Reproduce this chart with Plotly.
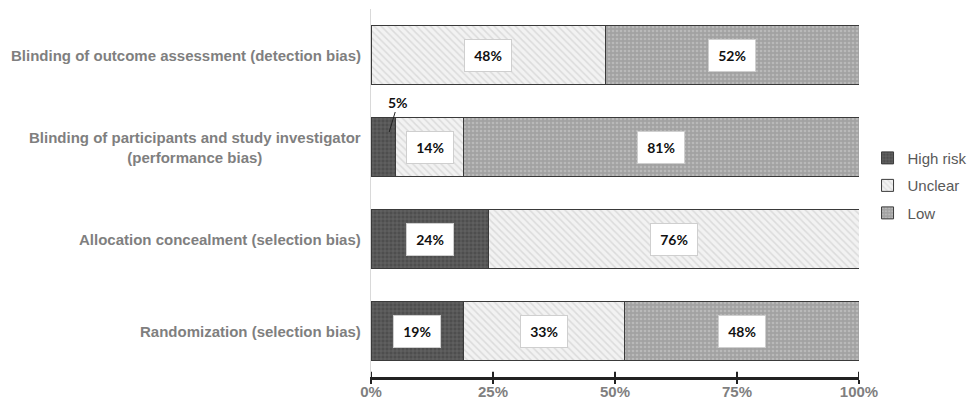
import plotly.graph_objects as go

# Risk-of-bias domains (bottom to top) and percentage of studies per judgement
categories = [
    "Randomization (selection bias)",
    "Allocation concealment (selection bias)",
    "Blinding of participants and study investigator<br>(performance bias)",
    "Blinding of outcome assessment (detection bias)",
]
high_risk = [19, 24, 5, 0]
unclear = [33, 76, 14, 48]
low = [48, 0, 81, 52]
x_ticks = [0, 25, 50, 75, 100]
x_tick_labels = ["0%", "25%", "50%", "75%", "100%"]

series = [
    ("High risk", high_risk, dict(shape="+", bgcolor="#4e4e4e", fgcolor="#8a8a8a", size=4, solidity=0.3)),
    ("Unclear", unclear, dict(shape="\\", bgcolor="#f2f2f2", fgcolor="#c4c4c4", size=5, solidity=0.3)),
    ("Low", low, dict(shape=".", bgcolor="#a2a2a2", fgcolor="#d0d0d0", size=4, solidity=0.35)),
]

fig = go.Figure()
for name, vals, patt in series:
    fig.add_trace(go.Bar(
        name=name, y=categories, x=vals, orientation="h", legendgroup=name,
        marker=dict(color=patt["bgcolor"], pattern=dict(fillmode="overlay", **patt),
                    line=dict(color="#3a3a3a", width=1)),
        hoverinfo="skip",
    ))

# Value boxes centred in each segment
label_font = dict(family="Lato, Carlito, sans-serif", size=14, color="#111111")
for ci, cat in enumerate(categories):
    start = 0
    for name, vals, _ in series:
        v = vals[ci]
        if v > 0 and not (name == "High risk" and v < 10):
            fig.add_annotation(
                x=start + v / 2, y=cat, xref="x", yref="y", text=f"<b>{v}%</b>",
                showarrow=False, font=label_font, bgcolor="white",
                bordercolor="#cfcfcf", borderwidth=1, borderpad=7, width=32, height=17,
            )
        start += v

# Small high-risk value placed above its bar with a leader line
small_idx = 2
fig.add_annotation(
    x=high_risk[small_idx] / 2, y=categories[small_idx], xref="x", yref="y",
    text=f"<b>{high_risk[small_idx]}%</b>", font=label_font,
    showarrow=True, arrowhead=0, arrowwidth=1, arrowcolor="#222222",
    ax=9, ay=-30, xshift=6, yshift=15,
)

# Category labels drawn as centred text blocks left of the axis
for cat in categories:
    fig.add_annotation(
        x=0, y=cat, xref="paper", yref="y", text=f"<b>{cat}</b>",
        xanchor="right", align="center", showarrow=False, xshift=-8,
        font=dict(family="Liberation Sans, Arial, sans-serif", size=15, color="#7f7f7f"),
    )

# Upper half of each tick mark so the ticks cross the axis line
for t in x_ticks:
    fig.add_shape(type="line", xref="x", yref="paper", x0=t, x1=t, y0=0, y1=0.014,
                  line=dict(color="#222222", width=2))

fig.update_layout(
    barmode="stack", bargap=0.35,
    width=971, height=403,
    margin=dict(l=371, r=112, t=9, b=26, autoexpand=False),
    plot_bgcolor="white", paper_bgcolor="white",
    font=dict(family="Liberation Sans, Arial, sans-serif", color="#7f7f7f"),
    legend=dict(
        x=1.0175, y=0.52, xanchor="left", yanchor="middle", traceorder="grouped",
        font=dict(size=15, color="#595959"), itemwidth=30, tracegroupgap=5,
        bgcolor="rgba(0,0,0,0)",
    ),
    xaxis=dict(
        range=[0, 100], tickvals=x_ticks, ticktext=[f"<b>{t}</b>" for t in x_tick_labels],
        showgrid=False, zeroline=False, showline=True, linecolor="#222222", linewidth=3,
        ticks="outside", ticklen=4, tickwidth=2, tickcolor="#222222", ticklabelstandoff=-5,
        tickfont=dict(size=15, color="#7f7f7f"), fixedrange=True,
    ),
    yaxis=dict(
        showticklabels=False, showgrid=False, zeroline=False,
        showline=True, linecolor="#d9d9d9", linewidth=1, ticks="", fixedrange=True,
    ),
)

fig.write_html("out.html")
